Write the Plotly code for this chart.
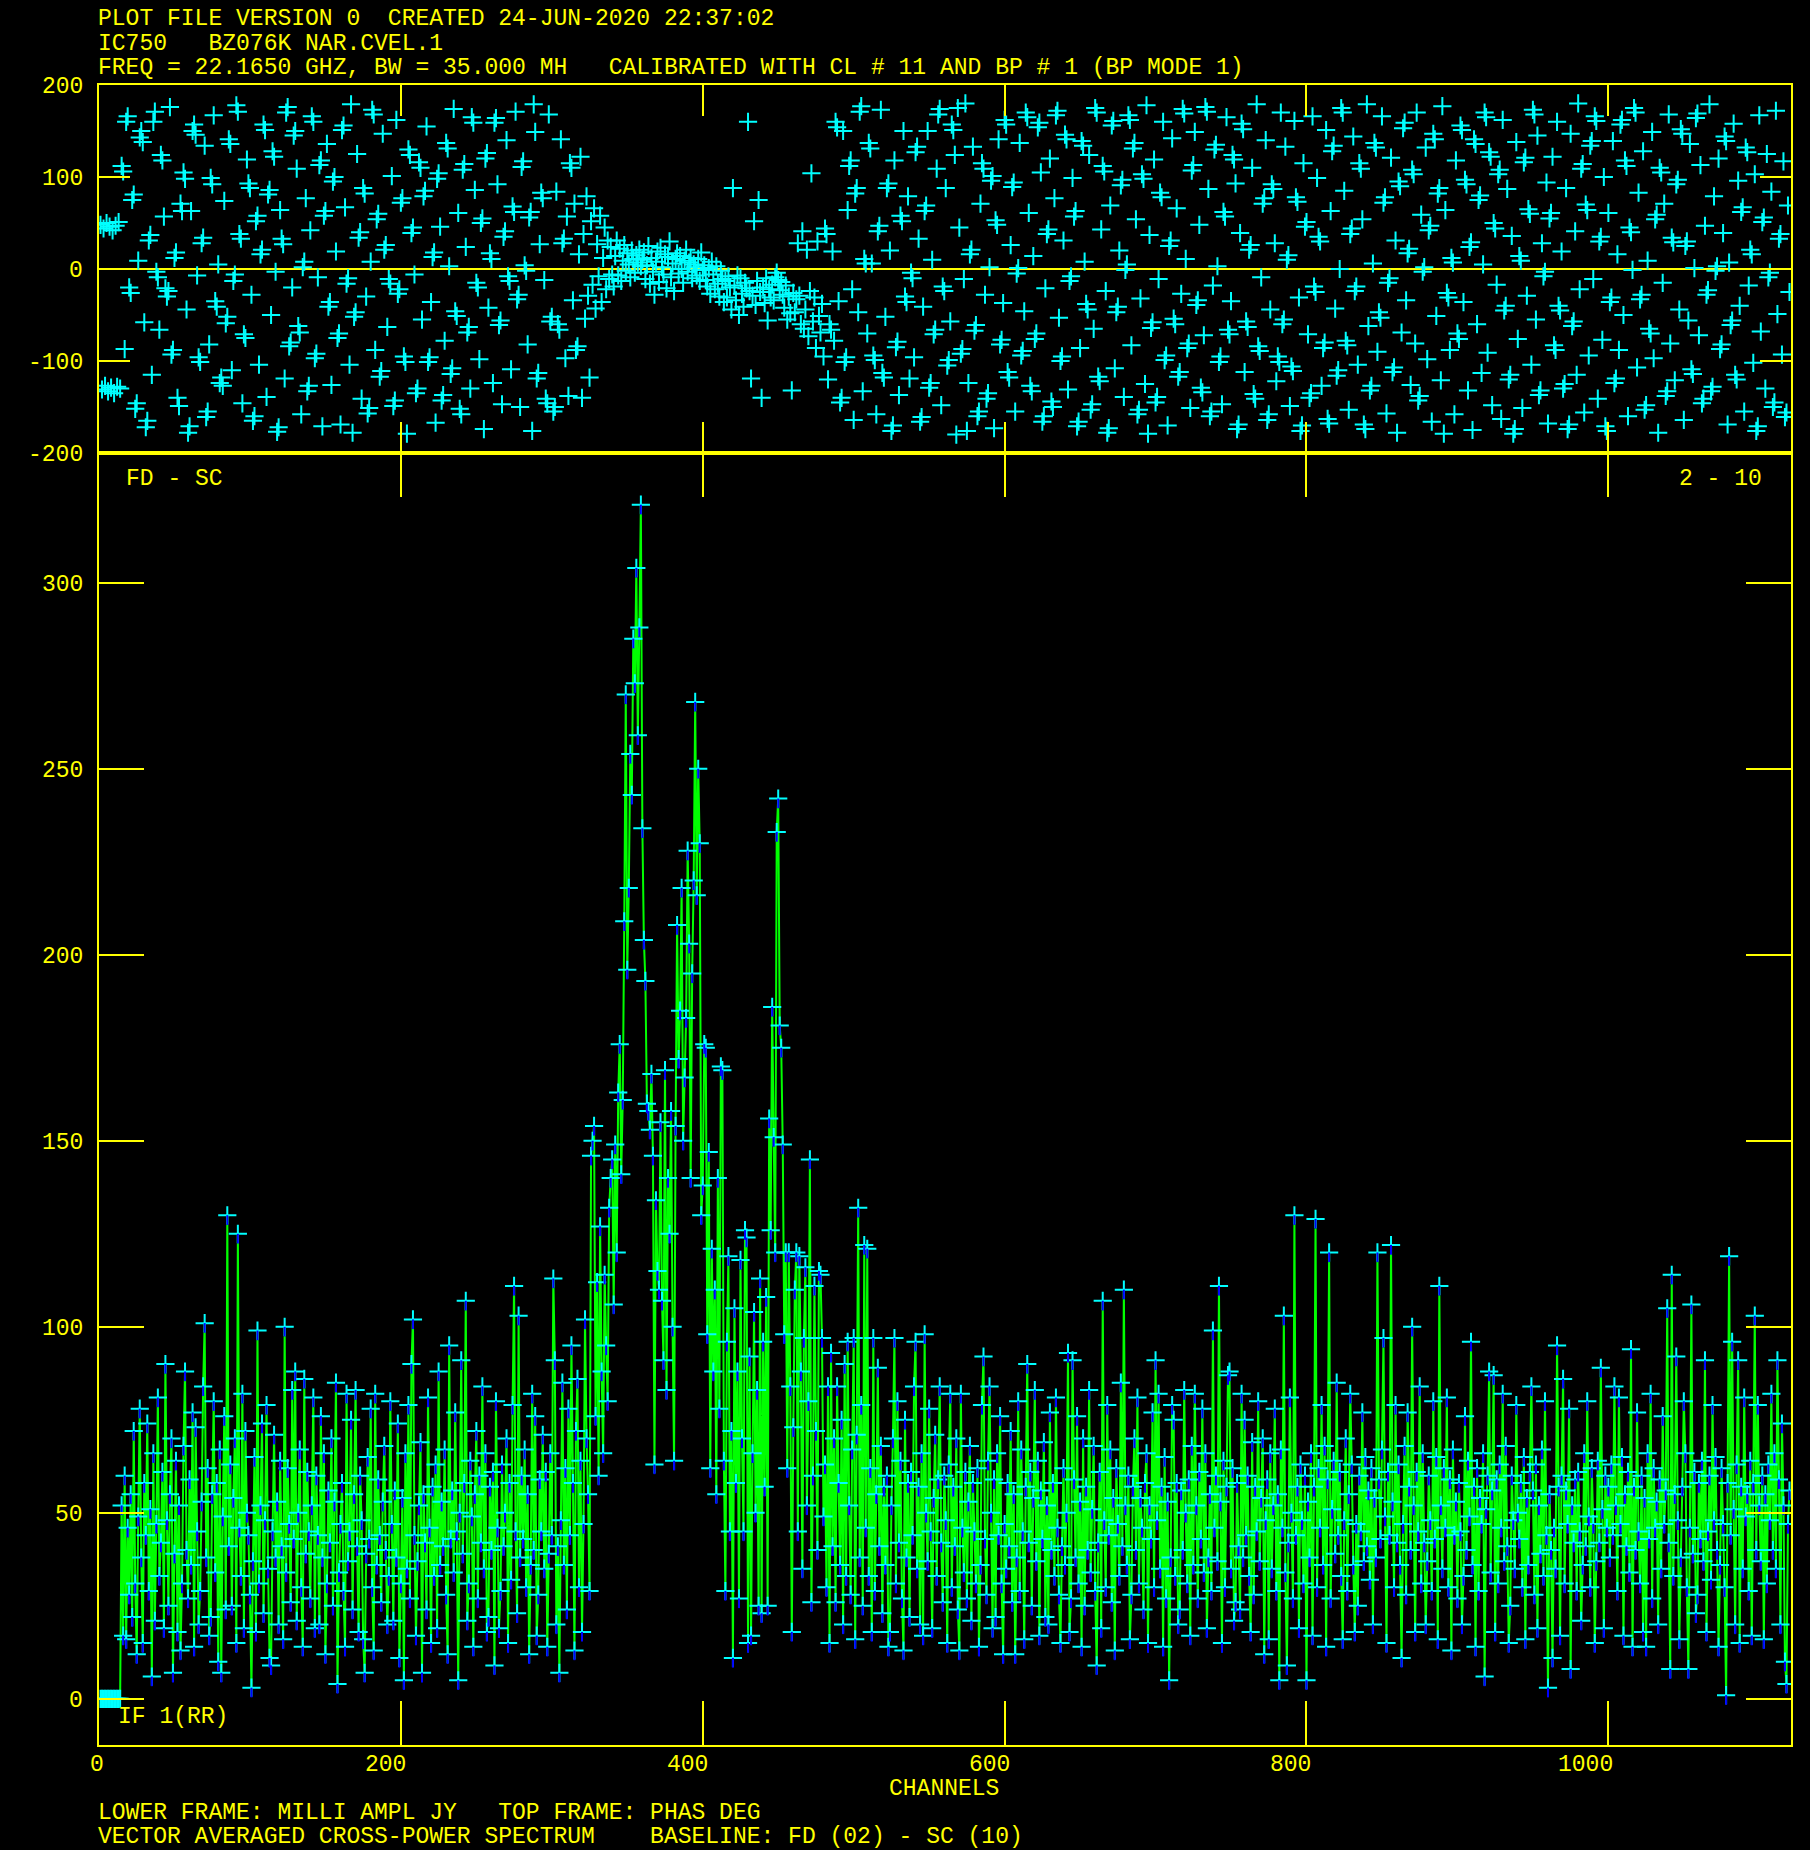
import plotly.graph_objects as go

# ---------------- data ----------------
# lower frame: milli amplitude (mJy) per channel, channels 1..1120
amp_mjy = [
 0,0,0,0,0,0,0,0,0,0,0,0,0,0,52,17,60,16,46,28,
 55,22,72,31,12,49,78,38,15,58,44,74,29,51,6,66,21,47,81,33,
 42,61,19,90,48,25,55,70,7,39,64,18,52,13,31,68,88,40,27,59,
 36,77,14,73,45,20,29,53,84,101,38,62,17,22,55,80,34,58,10,67,
 7,49,76,24,130,41,63,25,54,70,15,125,46,33,82,19,72,50,44,28,
 3,37,65,18,99,31,52,74,23,48,79,35,11,9,45,71,38,53,20,64,
 41,16,100,34,62,47,26,83,43,88,21,50,67,30,14,86,39,61,45,27,
 52,81,19,60,44,20,76,38,66,12,31,56,42,70,25,53,85,4,34,47,
 58,29,14,82,37,45,75,24,55,83,41,18,60,48,16,7,39,65,43,78,
 30,13,82,36,59,44,26,53,68,40,20,33,80,47,21,56,38,74,11,31,
 54,5,66,35,79,27,90,102,44,17,37,52,69,7,55,42,24,81,46,15,
 57,33,63,19,88,36,53,41,67,28,12,95,43,56,34,77,45,5,50,91,
 39,58,107,21,31,64,49,14,55,72,27,60,42,84,35,66,18,22,57,40,
 61,9,80,46,19,29,63,41,50,70,15,58,32,79,111,45,23,103,38,60,
 43,67,30,55,12,36,82,40,76,17,28,59,45,71,35,61,14,39,66,44,
 113,91,20,41,7,48,85,36,62,24,78,44,95,58,13,72,86,30,64,18,
 47,102,70,55,29,146,150,154,76,112,60,127,88,66,114,95,80,132,140,145,
 106,149,120,163,176,141,161,209,270,196,218,254,243,285,273,304,259,288,321,234,
 204,193,160,158,153,168,146,63,134,115,110,155,107,91,169,83,140,125,158,100,
 64,154,208,172,185,218,150,167,183,228,203,140,195,220,268,216,250,230,130,138,
 176,175,98,147,62,121,88,110,55,140,78,170,169,64,29,96,119,45,72,11,
 105,58,88,27,118,70,45,126,124,15,92,17,66,104,50,83,25,113,23,96,
 57,108,25,156,126,186,151,120,233,242,181,175,149,98,120,62,120,84,18,73,
 110,120,45,119,88,35,97,116,52,80,145,26,60,111,72,40,115,114,97,49,
 63,30,84,15,93,41,70,26,84,58,36,75,20,90,33,96,52,28,67,97,
 16,71,132,38,79,25,122,46,121,33,62,18,97,29,55,89,41,68,23,57,
 36,60,14,18,52,70,97,31,80,42,64,27,13,75,38,58,22,61,44,84,
 96,35,57,20,66,17,98,50,37,78,45,19,54,71,33,59,84,42,26,60,
 48,15,63,82,30,57,41,70,24,13,82,46,34,61,27,53,68,21,58,45,
 31,62,14,36,79,92,43,28,64,84,50,19,59,22,66,44,76,31,12,47,
 35,58,41,72,26,55,12,38,80,29,67,45,16,57,90,42,61,25,54,83,
 37,64,17,56,43,69,22,52,20,77,40,58,33,81,46,28,15,41,62,36,
 50,93,18,27,91,59,38,76,31,53,14,70,25,57,40,83,34,51,68,29,
 9,42,61,19,107,48,30,79,44,67,26,54,13,62,47,33,85,41,110,52,
 36,60,16,28,57,70,40,81,31,54,46,24,58,66,15,52,43,77,30,91,
 48,82,35,57,14,65,27,53,5,38,79,75,33,58,20,24,56,40,83,50,
 31,59,17,68,36,82,52,27,61,43,78,34,66,19,38,55,29,99,46,60,
 37,111,53,15,64,30,57,87,88,35,62,21,26,58,41,24,82,38,75,44,
 60,33,18,69,28,57,45,80,37,54,70,12,48,59,16,66,35,52,78,29,
 55,5,67,46,103,34,9,42,81,50,27,130,44,57,19,63,48,31,60,5,
 53,38,66,17,57,129,30,62,46,79,36,68,14,59,120,27,51,64,39,85,
 44,61,33,16,48,70,29,55,82,63,36,18,47,25,60,45,77,37,65,41,
 56,32,62,20,54,38,120,59,43,67,97,49,15,61,44,122,53,30,79,42,
 63,36,11,47,68,28,77,57,40,100,52,18,61,45,84,31,66,42,20,37,
 60,48,29,80,43,65,16,111,52,35,62,46,81,30,59,13,67,44,53,27,
 58,45,20,33,76,40,64,49,96,36,57,14,62,29,54,47,66,6,51,60,
 88,34,56,87,18,59,31,63,46,82,37,68,41,15,25,60,48,35,79,50,
 43,58,30,65,16,54,36,61,84,56,28,63,19,52,39,67,33,80,44,3,
 55,40,11,46,35,95,57,17,60,86,31,56,47,78,8,52,42,59,29,61,
 45,21,36,66,41,80,49,30,62,47,15,37,64,42,89,51,19,60,46,57,
 38,63,44,84,52,29,81,47,65,17,55,41,61,34,94,14,57,40,77,45,
 31,60,18,54,14,66,43,82,27,62,46,53,20,59,35,76,47,56,105,42,
 8,114,33,55,92,48,16,38,57,80,66,30,8,46,106,39,61,23,28,58,
 43,64,37,91,18,45,60,32,79,48,65,40,14,36,62,47,30,1,58,119,
 44,96,51,20,63,91,15,57,35,81,49,55,29,64,17,58,103,40,79,52,
 37,60,16,55,31,63,48,82,40,66,35,91,59,20,74,52,10,4,47,56,
]

# top frame: phase (degrees) per channel, channels 1..1120
phase_deg = [
 48,-131,44,-127,50,-133,46,-129,42,-135,47,-128,51,-130,112,106,-87,160,166,-20,
 -26,75,81,-152,-146,9,143,150,138,-58,-172,-165,31,37,-115,160,171,-3,-9,-66,
 124,118,57,-21,-30,-24,176,-93,-88,12,18,-140,-149,71,63,105,98,-44,-178,-171,
 63,150,157,146,-7,-96,-101,28,34,134,-161,-155,-82,99,92,167,-35,-41,5,-124,
 -118,-127,74,-59,-52,141,136,-110,-13,-6,178,171,38,33,-146,-71,-75,119,93,88,
 -28,-165,-160,52,58,-104,16,21,157,151,-139,81,86,-50,128,122,-3,-177,-172,64,
 33,27,-119,170,176,-84,-80,-20,145,150,109,-62,-69,-158,2,8,77,-133,-127,42,
 166,160,-97,-92,-9,113,118,-171,58,63,136,-41,-36,-126,95,100,19,-75,-70,-169,
 151,156,67,-16,-10,-104,179,-178,-52,-47,125,34,40,-141,88,82,-30,-157,-151,8,
 173,168,-88,54,60,-117,-111,147,21,26,-63,-11,-16,101,-149,-143,162,-27,-22,72,
 77,-95,-101,-179,130,124,39,45,-6,-135,-130,116,110,-55,79,85,155,-101,-96,-36,
 13,18,-167,98,104,46,-143,-137,-78,137,131,3,-114,-108,174,-46,-51,61,-152,-158,
 108,114,24,-69,-63,-130,165,159,86,-15,-20,-98,50,55,-174,120,126,-42,17,11,
 -124,159,164,92,-61,-56,-147,35,41,140,-8,-13,-109,68,62,171,-33,-28,-150,111,
 117,4,-2,-82,56,62,-176,179,149,-119,-113,27,83,77,-12,-141,-146,168,-57,-52,
 -155,-150,84,-60,-66,141,28,33,-97,57,-138,115,110,-34,71,-88,-84,16,122,-140,
 38,-54,79,-29,-118,52,-17,66,-43,27,-8,58,-36,12,45,-22,31,-11,24,-6,
 -19,14,31,-7,22,-13,9,26,-2,17,5,-9,20,11,-4,15,7,21,3,10,
 18,-11,4,25,-16,12,-3,-28,8,19,-14,23,2,-6,16,-21,13,30,-9,6,
 -24,11,17,-5,14,0,-15,9,21,-3,7,12,-10,5,2,-7,11,-13,18,-1,
 4,-12,-19,1,-27,8,-6,-22,3,-16,-30,-2,-11,-36,-13,-31,-8,-20,-44,88,
 -18,-34,-7,-50,-10,-27,-41,-15,-21,160,-24,-119,-29,52,-39,-13,75,-25,-140,-20,
 -37,-10,-56,-22,-31,-17,-34,-9,-4,-12,-23,-14,-28,-42,-18,-55,-30,-48,-132,-26,
 -47,-33,28,-29,-60,41,-65,-44,21,-73,-24,104,-57,-31,-86,30,-51,-69,-38,-95,
 44,38,-120,-60,-66,19,-78,160,154,-35,-145,-140,150,-101,-96,64,112,118,-22,-164,
 82,88,-47,171,177,-133,11,6,-70,137,131,6,-94,-99,-158,41,47,173,-113,-118,
 -52,88,93,20,-176,-170,118,-85,-79,-137,58,52,150,-30,-36,79,-119,-4,-10,-96,
 127,133,33,-166,-161,-41,63,69,150,-129,-124,10,-71,-66,109,168,174,-148,-19,-24,
 88,-105,-99,-57,157,151,124,-180,175,45,-92,-87,-11,180,-176,-124,16,21,133,-67,
 -61,-160,-155,71,115,109,-28,-141,-135,2,96,101,-173,53,48,141,-82,-77,-37,162,
 157,-112,-118,26,89,94,-155,-5,1,137,-94,-89,-46,170,165,61,-127,-133,14,-76,
 -70,154,159,105,-166,-160,-21,38,43,120,-144,-150,77,167,172,-53,-100,-95,31,146,
 141,-131,-13,-8,99,57,63,-171,-166,-86,139,134,8,-38,-44,124,-153,-147,-65,175,
 170,-117,-122,43,112,106,-24,-178,-173,69,156,161,-108,-47,-41,20,91,97,-139,-1,
 5,167,162,-83,131,137,54,-158,-153,-32,103,98,-125,178,-179,37,-64,-58,119,-145,
 -139,-11,83,78,160,-99,-94,-170,25,31,142,-54,-60,66,-117,-112,-27,174,169,11,
 -86,-81,-151,107,113,149,-39,-34,48,-129,-134,-72,176,171,87,-160,-155,-18,130,135,
 3,-101,-95,-147,62,57,165,-66,-71,-35,124,119,93,-174,-169,39,158,152,-112,-57,
 -63,21,26,110,-136,-141,179,-84,-89,-9,71,77,140,-164,-158,-44,92,87,28,-122,
 -95,-101,170,-60,-55,133,10,15,-149,-106,-111,161,78,73,-31,-176,-170,115,46,51,
 -71,-140,-135,166,-19,-25,99,35,30,-127,-86,-80,151,-163,-168,63,128,134,-43,-116,
 -110,0,175,170,85,-78,-83,-153,38,44,144,-24,-19,-104,115,109,54,-169,-174,179,
 -62,-132,-127,6,137,132,-90,-47,-53,166,72,78,-157,-15,-10,121,-112,-107,31,-178,
 95,90,-69,153,159,-34,17,22,-126,108,103,-81,170,-143,-138,59,-3,2,132,-98,
 42,47,-166,147,141,-51,82,88,-121,177,-179,64,-26,-31,-88,12,7,-158,118,-70,
 -76,156,151,-36,97,92,-132,24,29,-175,141,136,-60,75,80,-113,5,170,165,-91,
 127,122,-148,50,44,-17,103,108,-163,162,-45,-40,87,-120,-115,36,-179,-174,138,-76,
 14,9,-151,116,121,-29,65,60,-104,173,168,-55,145,-137,-132,28,-8,-3,94,-168,
 55,61,122,-83,-88,160,-40,-45,19,-130,-125,88,-174,-169,147,-62,-57,41,-115,180,
 -22,109,114,-156,70,64,-94,134,139,-11,166,161,-141,30,35,-77,100,-171,-176,61,
 -36,-31,139,-124,-119,16,-88,157,162,-50,118,112,-160,45,40,-1,175,170,-107,83,
 -33,-28,128,-153,-148,9,-65,-70,149,-97,54,59,-178,110,105,-15,71,-138,-133,168,
 -81,34,29,-121,92,97,-44,152,147,-164,25,30,-56,136,-109,-114,1,164,169,-72,
 113,-146,-141,47,-28,-23,179,-133,-128,79,-2,3,120,-87,-82,39,144,139,-169,7,
 -61,-56,158,-115,-120,96,-40,62,67,-155,132,127,-18,21,16,-102,103,-176,-171,167,
 -68,51,56,-130,125,-9,-4,84,-150,-145,172,-49,33,38,-93,117,-161,-156,69,-25,
]

channels_amp = list(range(1, len(amp_mjy) + 1))
channels_ph = list(range(1, len(phase_deg) + 1))
FIRST_VALID = 15  # channels before this carry zero amplitude

x_tick_vals = [0, 200, 400, 600, 800, 1000]
x_tick_text = ["0", "200", "400", "600", "800", "1000"]
amp_tick_vals = [0, 50, 100, 150, 200, 250, 300]
phase_tick_vals = [-200, -100, 0, 100, 200]

header_lines = [
    "PLOT FILE VERSION 0  CREATED 24-JUN-2020 22:37:02",
    "IC750   BZ076K NAR.CVEL.1",
    "FREQ = 22.1650 GHZ, BW = 35.000 MH   CALIBRATED WITH CL # 11 AND BP # 1 (BP MODE 1)",
]
footer_lines = [
    "LOWER FRAME: MILLI AMPL JY   TOP FRAME: PHAS DEG",
    "VECTOR AVERAGED CROSS-POWER SPECTRUM    BASELINE: FD (02) - SC (10)",
]
x_title = "CHANNELS"
baseline_left = "FD - SC"
baseline_right = "2 - 10"
if_label = "IF 1(RR)"

# ---------------- styling / layout ----------------
W, H = 1810, 1850
L, R, T, B = 99, 19, 85, 105
PW, PH = W - L - R, H - T - B
SPLIT = 1292 / PH

YEL = "#FFFF00"
CYAN = "#00FFFF"
GREEN = "#00FF00"
BLUE = "#0000FF"
FONT = dict(family="Liberation Mono, DejaVu Sans Mono, monospace", size=23, color=YEL)


def px_x(xp):
    return (xp - L) / PW


def px_y(yp):
    return (T + PH - yp) / PH


def nb(s):
    return s.replace(" ", "\u00a0")


fig = go.Figure()

k = FIRST_VALID - 1
fig.add_trace(go.Scatter(
    x=channels_amp, y=amp_mjy, mode="lines", xaxis="x", yaxis="y",
    line=dict(color=GREEN, width=2, simplify=False), hoverinfo="skip"))
fig.add_trace(go.Scatter(
    x=channels_amp, y=amp_mjy, mode="markers", xaxis="x", yaxis="y",
    marker=dict(symbol="cross-thin", size=13, color=CYAN,
                line=dict(color=CYAN, width=2)), hoverinfo="skip"))
fig.add_trace(go.Scatter(
    x=channels_amp[k:], y=amp_mjy[k:], mode="markers", xaxis="x", yaxis="y",
    marker=dict(size=1, color="rgba(0,0,0,0)"),
    error_y=dict(type="constant", value=0, valueminus=2.6, symmetric=False,
                 color=BLUE, thickness=2, width=0), hoverinfo="skip"))
fig.add_trace(go.Scatter(
    x=channels_ph, y=phase_deg, mode="markers", xaxis="x2", yaxis="y2",
    marker=dict(symbol="cross-thin", size=13, color=CYAN,
                line=dict(color=CYAN, width=2)), hoverinfo="skip"))

axis_common = dict(showline=True, linecolor=YEL, linewidth=2, mirror="ticks",
                   ticks="inside", tickcolor=YEL, tickwidth=2, showgrid=False,
                   showticklabels=False)

fig.update_layout(
    width=W, height=H, margin=dict(l=L, r=R, t=T, b=B, pad=0),
    paper_bgcolor="black", plot_bgcolor="black", showlegend=False,
    xaxis=dict(domain=[0, 1], anchor="y", range=[0, 1121], tickvals=x_tick_vals,
               ticklen=44, zeroline=False, **axis_common),
    xaxis2=dict(domain=[0, 1], anchor="y2", matches="x", range=[0, 1121],
                tickvals=x_tick_vals, ticklen=31, zeroline=False, **axis_common),
    yaxis=dict(domain=[0, SPLIT], anchor="x", range=[-12.4, 334.9],
               tickvals=amp_tick_vals, ticklen=45, zeroline=False, **axis_common),
    yaxis2=dict(domain=[SPLIT, 1], anchor="x2", range=[-200, 200],
                tickvals=phase_tick_vals, ticklen=31, zeroline=True,
                zerolinecolor=YEL, zerolinewidth=2, **axis_common),
)

ann = []
for v, t in zip(x_tick_vals, x_tick_text):
    ann.append(dict(x=v, xref="x", y=0, yref="paper", text=t, showarrow=False,
                    xanchor="right", yanchor="middle", xshift=7, yshift=-20, font=FONT))
for v in amp_tick_vals:
    ann.append(dict(x=0, xref="paper", y=v, yref="y", text=str(v), showarrow=False,
                    xanchor="right", yanchor="middle", xshift=-14, yshift=-2, font=FONT))
for v in phase_tick_vals:
    ann.append(dict(x=0, xref="paper", y=v, yref="y2", text=str(v), showarrow=False,
                    xanchor="right", yanchor="middle", xshift=-14, yshift=-2, font=FONT))

for s, yp in zip(header_lines, [19, 43.5, 67.5]):
    ann.append(dict(x=px_x(96), xref="paper", y=px_y(yp), yref="paper", text=nb(s),
                    showarrow=False, xanchor="left", yanchor="middle", font=FONT))
for s, yp in zip(footer_lines, [1813, 1837]):
    ann.append(dict(x=px_x(96), xref="paper", y=px_y(yp), yref="paper", text=nb(s),
                    showarrow=False, xanchor="left", yanchor="middle", font=FONT))
ann.append(dict(x=px_x(944), xref="paper", y=px_y(1789), yref="paper", text=x_title,
                showarrow=False, xanchor="center", yanchor="middle", font=FONT))
ann.append(dict(x=px_x(124), xref="paper", y=px_y(479), yref="paper", text=nb(baseline_left),
                showarrow=False, xanchor="left", yanchor="middle", font=FONT))
ann.append(dict(x=px_x(1764), xref="paper", y=px_y(479), yref="paper", text=nb(baseline_right),
                showarrow=False, xanchor="right", yanchor="middle", font=FONT))
ann.append(dict(x=px_x(116), xref="paper", y=px_y(1717), yref="paper", text=nb(if_label),
                showarrow=False, xanchor="left", yanchor="middle", font=FONT))

fig.update_layout(annotations=ann)
fig.write_html(
    "out.html",
    config={"displayModeBar": False},
    post_script="document.body.style.margin='0';document.body.style.background='black';",
)
